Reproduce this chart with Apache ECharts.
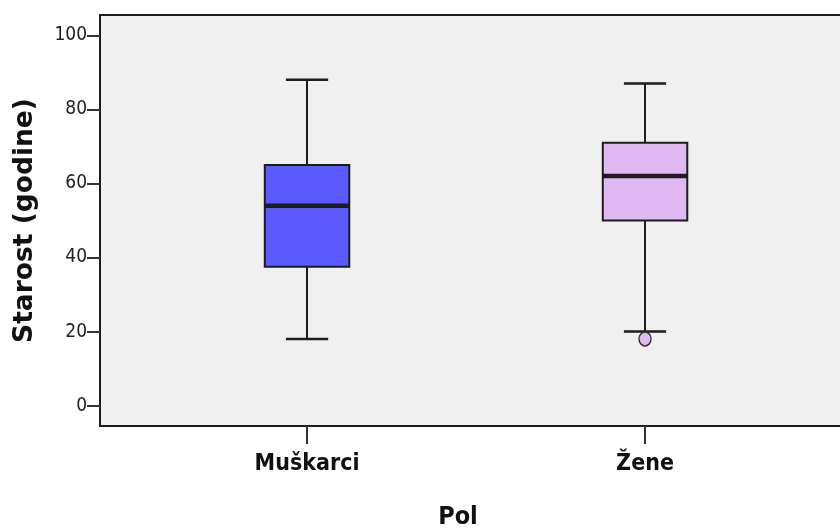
<!DOCTYPE html>
<html>
<head>
<meta charset="utf-8">
<script src="https://cdn.jsdelivr.net/npm/echarts@6/dist/echarts.min.js"></script>
<style>
  html, body { margin: 0; padding: 0; background: #ffffff; }
  #chart { width: 840px; height: 528px; }
</style>
</head>
<body>
<div id="chart"></div>
<script>
// Age by sex: box-and-whisker summary
const categories = ['Muškarci', 'Žene'];
const whiskerLow = [18, 20];
const quartile1 = [37.5, 50];
const medians = [54, 62];
const quartile3 = [65, 71];
const whiskerHigh = [88, 87];
const boxColors = ['#5a5aff', '#e0b9f3'];

// Outlying observations: category name and value
const outlierCategory = ['Žene'];
const outlierValue = [18];

const yTicks = [0, 20, 40, 60, 80, 100];
const xPositions = categories.map((c, i) => i + 1);

const narrow = '"Liberation Sans Narrow", "Arial Narrow", "DejaVu Sans Condensed", sans-serif';

const boxData = categories.map((c, i) => [
  i + 1, whiskerLow[i], quartile1[i], medians[i], quartile3[i], whiskerHigh[i]
]);
const outlierData = outlierCategory.map((c, i) => [categories.indexOf(c) + 1, outlierValue[i]]);

function renderBox(params, api) {
  const x = api.value(0);
  const low = api.coord([x, api.value(1)]);
  const q1 = api.coord([x, api.value(2)]);
  const med = api.coord([x, api.value(3)]);
  const q3 = api.coord([x, api.value(4)]);
  const high = api.coord([x, api.value(5)]);
  const boxW = api.size([0.25, 0])[0];
  const half = boxW / 2;
  const cap = half / 2;
  const cx = low[0];
  const stroke = '#1c1c1c';
  const line = (x1, y1, x2, y2, w) => ({
    type: 'line',
    shape: { x1, y1, x2, y2 },
    style: { stroke, lineWidth: w || 2 }
  });
  return {
    type: 'group',
    children: [
      line(cx, high[1], cx, q3[1]),
      line(cx, q1[1], cx, low[1]),
      line(cx - cap, high[1], cx + cap, high[1], 2.5),
      line(cx - cap, low[1], cx + cap, low[1], 2.5),
      {
        type: 'rect',
        shape: { x: cx - half, y: q3[1], width: boxW, height: q1[1] - q3[1] },
        style: { fill: boxColors[params.dataIndex], stroke, lineWidth: 2 }
      },
      line(cx - half, med[1], cx + half, med[1], 4.5)
    ]
  };
}

const chart = echarts.init(document.getElementById('chart'), null, { renderer: 'canvas' });
chart.setOption({
  backgroundColor: '#ffffff',
  animation: false,
  grid: {
    left: 100, top: 15, width: 760, height: 411,
    outerBoundsMode: 'none',
    containLabel: false,
    show: true, backgroundColor: '#f0f0f0', borderColor: '#1c1c1c', borderWidth: 2
  },
  xAxis: {
    type: 'value',
    min: 0.3875, max: 2.636,
    name: 'Pol',
    nameLocation: 'middle',
    nameGap: 79,
    nameTextStyle: { fontFamily: narrow, fontWeight: 'bold', fontSize: 25, color: '#111', padding: [0, 44, 0, 0] },
    axisLine: { show: false, onZero: false },
    splitLine: { show: false },
    axisTick: { show: true, customValues: xPositions, length: 18, inside: false, lineStyle: { color: '#333', width: 2 } },
    axisLabel: {
      customValues: xPositions,
      margin: 27,
      formatter: v => categories[Math.round(v) - 1],
      fontFamily: narrow, fontWeight: 'bold', fontSize: 23, color: '#111'
    }
  },
  yAxis: {
    type: 'value',
    min: -5.5, max: 105.5,
    name: 'Starost (godine)',
    nameLocation: 'middle',
    nameGap: 61,
    nameTextStyle: { fontFamily: '"DejaVu Sans", sans-serif', fontWeight: 'bold', fontSize: 26.5, color: '#111' },
    axisLine: { show: false, onZero: false },
    splitLine: { show: false },
    axisTick: { show: true, customValues: yTicks, length: 13, lineStyle: { color: '#333', width: 2 } },
    axisLabel: { customValues: yTicks, margin: 13, fontFamily: narrow, fontSize: 19, color: '#222' }
  },
  series: [
    {
      type: 'custom',
      renderItem: renderBox,
      encode: { x: 0, y: [1, 2, 3, 4, 5] },
      data: boxData,
      z: 2
    },
    {
      type: 'scatter',
      data: outlierData,
      symbol: 'circle',
      symbolSize: [12, 14],
      itemStyle: { color: boxColors[1], borderColor: '#333', borderWidth: 1.5, opacity: 1 },
      z: 3
    }
  ]
});
</script>
</body>
</html>
